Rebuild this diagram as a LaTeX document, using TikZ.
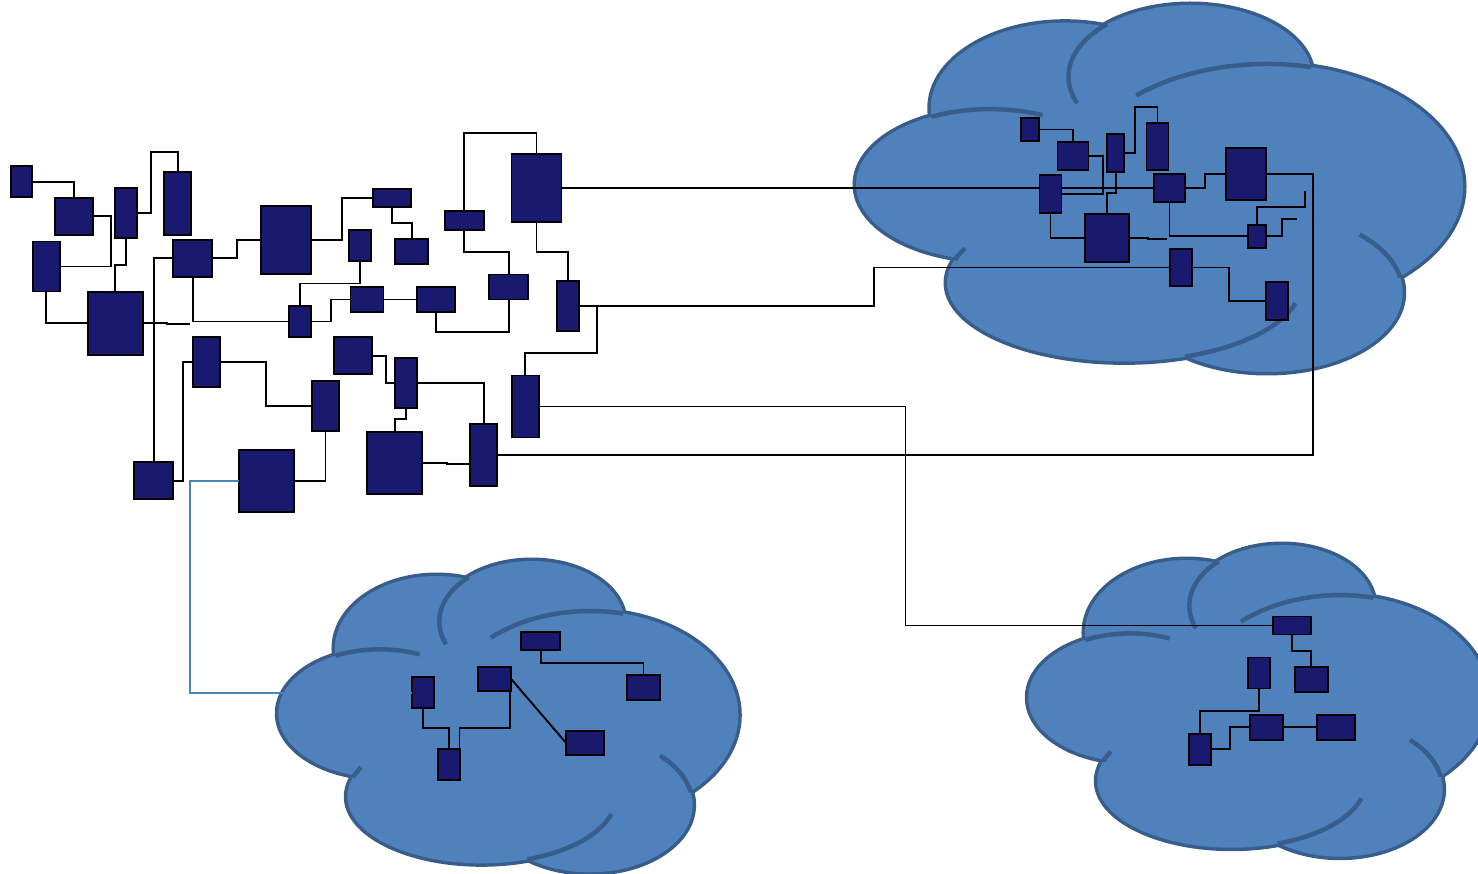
\documentclass[tikz,border=0pt]{standalone}
\usepackage{tikz}
\usetikzlibrary{calc}

\definecolor{cloudfill}{HTML}{4F81BD}
\definecolor{cloudline}{HTML}{385D8A}
\definecolor{devblue}{HTML}{191970}

\tikzset{
  dev/.style={draw=black, fill=devblue, line width=1.8pt, inner sep=0pt, outer sep=0pt},
  wire/.style={draw=black, line width=1.9pt},
  bluewire/.style={draw=cloudfill, line width=2pt},
}

% device: name, centre x, centre y, width, height
\newcommand{\dev}[5]{\node[dev, minimum width=#4pt, minimum height=#5pt] (#1) at (#2,#3) {};}

% lobes of the cloud in a unit box: cx/cy/rx/ry
\newcommand{\cloudlobes}{0.3442/0.2805/0.2210/0.2323, 0.5507/0.1949/0.2007/0.1949,
  0.6775/0.4946/0.3225/0.3340, 0.2210/0.4893/0.2210/0.2056,
  0.4420/0.7570/0.2920/0.2141, 0.6775/0.7837/0.2232/0.2163}
% inner arcs: cx/cy/rx/ry/from/to
\newcommand{\cloudarcs}{0.2210/0.4893/0.2210/0.2056/-116/-67,
  0.5507/0.1949/0.2007/0.1949/158/227, 0.6775/0.4946/0.3225/0.3340/-132/-77,
  0.4420/0.7570/0.2920/0.2141/197/206, 0.4420/0.7570/0.2920/0.2141/15/70,
  0.6775/0.7837/0.2232/0.2163/-47/-11}

% cloud: left, top, width, height
\newcommand{\cloudat}[4]{%
  \begin{scope}[shift={(#1,#2)}, x=#3pt, y=-#4pt]
    \foreach \cx/\cy/\rx/\ry in \cloudlobes
      \draw[cloudline, line width=7pt] (\cx,\cy) ellipse[x radius=\rx, y radius=\ry];
    \foreach \cx/\cy/\rx/\ry in \cloudlobes
      \fill[cloudfill] (\cx,\cy) ellipse[x radius=\rx, y radius=\ry];
    \foreach \cx/\cy/\rx/\ry/\a/\b in \cloudarcs
      \draw[cloudline, line width=4.5pt] plot[domain=\a:\b, samples=30, variable=\t]
        ({\cx+\rx*cos(\t)}, {\cy+\ry*sin(\t)});
  \end{scope}}

\begin{document}
\begin{tikzpicture}[x=1pt, y=-1pt]
\useasboundingbox (0,0) rectangle (1478,874);

\cloudat{856}{5}{607}{367}
\cloudat{278.3}{561}{460}{311.3}
\cloudat{1028.3}{545}{460}{311.7}

% local network
\dev{b1}{21.2}{181.7}{21}{31}
\dev{b2}{73.7}{216.2}{38}{37}
\dev{b3}{126.3}{212.7}{22}{50}
\dev{b4}{177.8}{203.5}{27}{63}
\dev{b5}{46.2}{266.5}{27}{50}
\dev{b6}{192.8}{258.2}{39}{37}
\dev{b7}{286.3}{239.7}{50}{68}
\dev{b8}{115.3}{323.2}{55}{63}
\dev{b9}{300.2}{321.5}{22}{31}
\dev{b10}{206.8}{362.2}{27}{50}
\dev{c1}{392}{197.7}{38}{18}
\dev{c2}{359.7}{245.5}{22}{31}
\dev{c3}{411.7}{251.8}{33}{25}
\dev{c4}{464.2}{220.5}{39}{19}
\dev{c5}{536.5}{188}{50}{68}
\dev{c6}{508.8}{287}{39}{25}
\dev{c7}{568}{305.7}{22}{50}
\dev{c8}{367}{299.5}{33}{25}
\dev{c9}{436.3}{299.5}{38}{25}
\dev{c10}{353}{355.8}{38}{37}
\dev{c11}{405.8}{383.2}{22}{50}
\dev{d1}{325.5}{406.3}{27}{50}
\dev{d2}{153.8}{480.8}{39}{37}
\dev{d3}{266.2}{481.2}{55}{62}
\dev{d4}{394.7}{463}{55}{62}
\dev{d5}{483.8}{455.2}{27}{62}
\dev{d6}{525.3}{406.5}{27}{62}

% upper cloud
\dev{e1}{1030}{129.5}{18}{23}
\dev{e2}{1073}{155.8}{31}{28}
\dev{e3}{1115.8}{153.3}{17}{38}
\dev{e4}{1157.5}{146.3}{22}{47}
\dev{e5}{1050.5}{194.3}{22}{38}
\dev{e6}{1106.8}{237.7}{44}{48}
\dev{e7}{1245.7}{173.8}{40}{52}
\dev{e8}{1169.5}{188}{31}{28}
\dev{e9}{1257}{236.2}{18}{23}
\dev{f1}{1181}{267.5}{22}{37}
\dev{e10}{1277.2}{301.3}{22}{38}

% lower left cloud
\dev{m1}{423}{692.5}{22}{31}
\dev{m2}{449}{764.8}{22}{31}
\dev{m3}{494.8}{679.2}{33}{24}
\dev{m4}{540.8}{641.2}{39}{18}
\dev{m5}{643.5}{687.8}{33}{25}
\dev{m6}{585.3}{743.2}{38}{24}

% lower right cloud
\dev{k1}{1291.7}{625.5}{38}{18}
\dev{k2}{1259.3}{673}{22}{31}
\dev{k3}{1311.3}{679.8}{33}{25}
\dev{k4}{1266.7}{727.2}{33}{25}
\dev{k5}{1336}{727.2}{38}{25}
\dev{k6}{1200}{749.3}{22}{31}

% links, local network
\draw[wire] (b1.east) -| (b2.north);
\draw[wire] (b2.east) -- (110.7,216.2) |- (b5.east);
\draw[wire] (b3.east) -- (150.7,212.7) |- (177.8,152) -- (b4.north);
\draw[wire] (b3.south) -- (126.3,264.7) -| (b8.north);
\draw[wire] (b5.south) |- (b8.west);
\draw[wire] (b8.east) -- (166.7,323.2) -- (166.7,324.3) -- (190,324.3);
\draw[wire] (b6.south) |- (b9.west);
\draw[wire] (b6.west) -| (d2.north);
\draw[wire] (b6.east) -- (237,258.2) |- (b7.west);
\draw[wire] (b7.east) -- (341.7,239.7) |- (c1.west);
\draw[wire] (b9.north) -- (300.2,283.5) -| (c2.south);
\draw[wire] (b9.east) -- (330.7,321.5) |- (c8.west);
\draw[wire] (c1.south) -- (392,223.3) -| (c3.north);
\draw[wire] (c8.east) -- (c9.west);
\draw[wire] (c9.south) -- (436.3,332) -| (c6.south);
\draw[wire] (c4.north) -- (464.2,133.3) -| (c5.north);
\draw[wire] (c4.south) -- (464.2,252.3) -| (c6.north);
\draw[wire] (c5.south) -- (536.5,251.7) -| (c7.north);
\draw[wire] (c7.east) -- (596.7,305.7) |- (525.3,352.7) -- (d6.north);
\draw[wire] (c10.east) -- (386,355.8) |- (c11.west);
\draw[wire] (c11.south) -- (405.8,419.3) -| (d4.north);
\draw[wire] (b10.east) -- (266,362.2) |- (d1.west);
\draw[wire] (b10.west) -- (183,362.2) |- (d2.east);
\draw[wire] (d1.south) |- (d3.east);
\draw[wire] (d4.east) -- (446.7,463) -- (446.7,464.3) -- (d5.west |- 0,464.3);
\draw[wire] (d5.north) |- (c11.east);
\draw[bluewire] (d3.west) -- (190,481.2) |- (m1.west);

% long links to the clouds
\draw[wire] (c5.east) -- (e5.west |- c5.east);
\draw[wire] (e5.east |- e8.west) -- (e8.west);
\draw[wire] (c7.east) -- (874,305.7) |- (f1.west);
\draw[wire] (d6.east) -- (905.5,406.5) |- (k1.west);
\draw[wire] (d5.east) -- (1313.3,455.2) |- (e7.east);

% links, upper cloud
\draw[wire] (e1.east) -| (e2.north);
\draw[wire] (e2.east) -- (1103.3,155.8) |- (e5.east);
\draw[wire] (e3.south) -- (1115.8,192.7) -| (e6.north);
\draw[wire] (e3.east) -- (1135.3,153.3) |- (1157.5,106.7) -- (e4.north);
\draw[wire] (e5.south) |- (e6.west);
\draw[wire] (e6.east) -- (1148.3,237.7) -- (1148.3,238.7) -- (1167.3,238.7);
\draw[wire] (e8.east) -- (1205.3,188) |- (e7.west);
\draw[wire] (e8.south) |- (e9.west);
\draw[wire] (e9.north) |- (1305.3,207.3) -- (1305.3,190.7);
\draw[wire] (e9.east) -- (1282,236.2) |- (1297.3,219.3);
\draw[wire] (f1.east) -- (1229,267.5) |- (e10.west);

% links, lower clouds
\draw[wire] (m1.south) -- (423,728.3) -| (m2.north);
\draw[wire] ($(m3.south east)+(-1.5,0)$) -- ++(0,36.6) -| ($(m2.north east)+(-0.5,0)$);
\draw[wire] (m3.east) -- (m6.west);
\draw[wire] (m4.south) -- (540.8,662.7) -| (m5.north);
\draw[wire] (k1.south) -- (1291.7,651) -| (k3.north);
\draw[wire] (k2.south) -- (1259.3,711) -| (k6.north);
\draw[wire] (k6.east) -- (1230,749.3) |- (k4.west);
\draw[wire] (k4.east) -- (k5.west);
\end{tikzpicture}
\end{document}
